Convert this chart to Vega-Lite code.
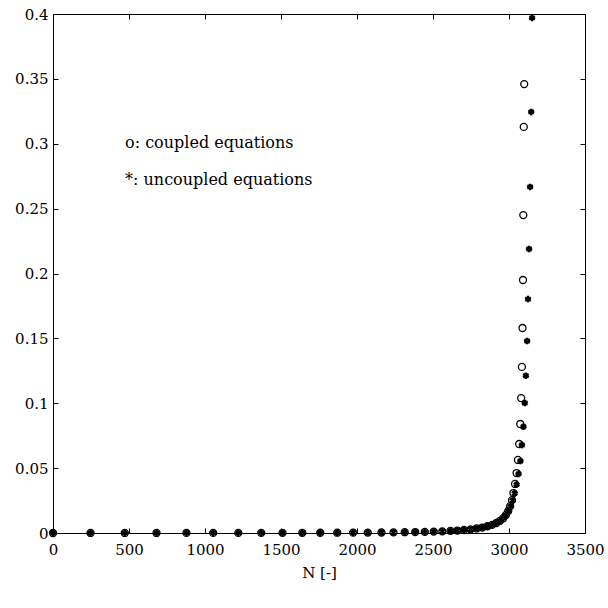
{
  "$schema": "https://vega.github.io/schema/vega-lite/v6.json",
  "width": 532,
  "height": 519,
  "autosize": "none",
  "padding": {"left": 53, "top": 14, "right": 23, "bottom": 75},
  "background": "white",
  "config": {
    "view": {"stroke": "black", "strokeWidth": 1},
    "axis": {
      "domainColor": "black",
      "domainWidth": 1,
      "tickColor": "black",
      "tickWidth": 1,
      "tickSize": -5,
      "grid": false,
      "labelFont": "DejaVu Serif",
      "labelFontSize": 15,
      "labelColor": "black",
      "labelFlush": false,
      "labelOverlap": false,
      "labelBound": false,
      "titleFont": "DejaVu Serif",
      "titleFontSize": 15,
      "titleFontWeight": "normal",
      "titleColor": "black"
    }
  },
  "data": {
    "values": [
      {"s": "c", "N": 0, "v": 0},
      {"s": "c", "N": 247, "v": 0.00002},
      {"s": "c", "N": 472, "v": 0.00003},
      {"s": "c", "N": 681, "v": 0.00004},
      {"s": "c", "N": 878, "v": 0.00005},
      {"s": "c", "N": 1054, "v": 0.00006},
      {"s": "c", "N": 1219, "v": 0.00008},
      {"s": "c", "N": 1370, "v": 0.0001},
      {"s": "c", "N": 1510, "v": 0.00012},
      {"s": "c", "N": 1640, "v": 0.00015},
      {"s": "c", "N": 1758, "v": 0.00018},
      {"s": "c", "N": 1870, "v": 0.00022},
      {"s": "c", "N": 1975, "v": 0.00027},
      {"s": "c", "N": 2071, "v": 0.00033},
      {"s": "c", "N": 2161, "v": 0.0004},
      {"s": "c", "N": 2240, "v": 0.0005},
      {"s": "c", "N": 2314, "v": 0.0006},
      {"s": "c", "N": 2383, "v": 0.00075},
      {"s": "c", "N": 2446, "v": 0.0009},
      {"s": "c", "N": 2505, "v": 0.0011},
      {"s": "c", "N": 2561, "v": 0.0013},
      {"s": "c", "N": 2615, "v": 0.0016},
      {"s": "c", "N": 2660, "v": 0.0019},
      {"s": "c", "N": 2704, "v": 0.0023},
      {"s": "c", "N": 2747, "v": 0.0028},
      {"s": "c", "N": 2787, "v": 0.0035},
      {"s": "c", "N": 2824, "v": 0.0042},
      {"s": "c", "N": 2858, "v": 0.0052},
      {"s": "c", "N": 2889, "v": 0.0063},
      {"s": "c", "N": 2917, "v": 0.0077},
      {"s": "c", "N": 2941, "v": 0.0094},
      {"s": "c", "N": 2962, "v": 0.0114},
      {"s": "c", "N": 2980, "v": 0.0139},
      {"s": "c", "N": 2995, "v": 0.017},
      {"s": "c", "N": 3008, "v": 0.0207},
      {"s": "c", "N": 3020, "v": 0.0253},
      {"s": "c", "N": 3029, "v": 0.0308},
      {"s": "c", "N": 3040, "v": 0.0378},
      {"s": "c", "N": 3050, "v": 0.0462},
      {"s": "c", "N": 3059, "v": 0.0563},
      {"s": "c", "N": 3067, "v": 0.0686},
      {"s": "c", "N": 3074, "v": 0.084},
      {"s": "c", "N": 3080, "v": 0.104},
      {"s": "c", "N": 3085, "v": 0.128},
      {"s": "c", "N": 3089, "v": 0.158},
      {"s": "c", "N": 3092, "v": 0.195},
      {"s": "c", "N": 3094, "v": 0.245},
      {"s": "c", "N": 3097, "v": 0.313},
      {"s": "c", "N": 3100, "v": 0.346},
      {"s": "u", "N": 0, "v": 0},
      {"s": "u", "N": 247, "v": 0.00002},
      {"s": "u", "N": 472, "v": 0.00003},
      {"s": "u", "N": 681, "v": 0.00004},
      {"s": "u", "N": 878, "v": 0.00005},
      {"s": "u", "N": 1054, "v": 0.00006},
      {"s": "u", "N": 1219, "v": 0.00008},
      {"s": "u", "N": 1370, "v": 0.0001},
      {"s": "u", "N": 1510, "v": 0.00012},
      {"s": "u", "N": 1640, "v": 0.00015},
      {"s": "u", "N": 1758, "v": 0.00018},
      {"s": "u", "N": 1870, "v": 0.00022},
      {"s": "u", "N": 1975, "v": 0.00027},
      {"s": "u", "N": 2071, "v": 0.00033},
      {"s": "u", "N": 2161, "v": 0.0004},
      {"s": "u", "N": 2240, "v": 0.0005},
      {"s": "u", "N": 2314, "v": 0.0006},
      {"s": "u", "N": 2383, "v": 0.00075},
      {"s": "u", "N": 2446, "v": 0.0009},
      {"s": "u", "N": 2505, "v": 0.0011},
      {"s": "u", "N": 2561, "v": 0.0013},
      {"s": "u", "N": 2615, "v": 0.0016},
      {"s": "u", "N": 2660, "v": 0.0019},
      {"s": "u", "N": 2704, "v": 0.0023},
      {"s": "u", "N": 2747, "v": 0.0028},
      {"s": "u", "N": 2787, "v": 0.0035},
      {"s": "u", "N": 2824, "v": 0.0042},
      {"s": "u", "N": 2858, "v": 0.0052},
      {"s": "u", "N": 2889, "v": 0.0063},
      {"s": "u", "N": 2917, "v": 0.0077},
      {"s": "u", "N": 2941, "v": 0.0094},
      {"s": "u", "N": 2962, "v": 0.0114},
      {"s": "u", "N": 2980, "v": 0.0139},
      {"s": "u", "N": 2995, "v": 0.017},
      {"s": "u", "N": 3011, "v": 0.0206},
      {"s": "u", "N": 3024, "v": 0.0251},
      {"s": "u", "N": 3037, "v": 0.0306},
      {"s": "u", "N": 3050, "v": 0.0373},
      {"s": "u", "N": 3063, "v": 0.0455},
      {"s": "u", "N": 3075, "v": 0.0555},
      {"s": "u", "N": 3085, "v": 0.0678},
      {"s": "u", "N": 3095, "v": 0.0819},
      {"s": "u", "N": 3104, "v": 0.1002},
      {"s": "u", "N": 3111, "v": 0.1212},
      {"s": "u", "N": 3119, "v": 0.148},
      {"s": "u", "N": 3125, "v": 0.1803},
      {"s": "u", "N": 3132, "v": 0.2189},
      {"s": "u", "N": 3139, "v": 0.2667},
      {"s": "u", "N": 3146, "v": 0.3245},
      {"s": "u", "N": 3152, "v": 0.397}
    ]
  },
  "layer": [
    {
      "transform": [{"filter": "datum.s == 'c'"}],
      "mark": {"type": "point", "shape": "circle", "size": 49, "filled": false, "stroke": "black", "strokeWidth": 1.3, "opacity": 1},
      "encoding": {
        "x": {
          "field": "N", "type": "quantitative",
          "scale": {"domain": [0, 3500], "nice": false, "zero": false},
          "axis": {"orient": "bottom", "values": [0, 500, 1000, 1500, 2000, 2500, 3000, 3500], "format": "d", "title": "N [-]", "labelPadding": 14, "titlePadding": 8}
        },
        "y": {
          "field": "v", "type": "quantitative",
          "scale": {"domain": [0, 0.4], "nice": false, "zero": false},
          "axis": {"orient": "left", "values": [0, 0.05, 0.1, 0.15, 0.2, 0.25, 0.3, 0.35, 0.4], "format": ".2~f", "title": null, "labelPadding": 10}
        }
      }
    },
    {
      "transform": [{"filter": "datum.s == 'u'"}],
      "mark": {"type": "point", "shape": "M0,-1L0,1M-0.87,-0.5L0.87,0.5M-0.87,0.5L0.87,-0.5", "size": 42, "filled": false, "stroke": "black", "strokeWidth": 2.4, "opacity": 1},
      "encoding": {
        "x": {
          "field": "N", "type": "quantitative",
          "axis": {"orient": "top", "values": [0, 500, 1000, 1500, 2000, 2500, 3000, 3500], "labels": false, "title": null}
        },
        "y": {
          "field": "v", "type": "quantitative",
          "axis": {"orient": "right", "values": [0, 0.05, 0.1, 0.15, 0.2, 0.25, 0.3, 0.35, 0.4], "labels": false, "title": null}
        }
      }
    },
    {
      "data": {
        "values": [
          {"t": "o: coupled equations", "N": 474, "v": 0.3006},
          {"t": "*: uncoupled equations", "N": 474, "v": 0.272}
        ]
      },
      "mark": {"type": "text", "align": "left", "baseline": "middle", "font": "DejaVu Serif", "fontSize": 16, "color": "black"},
      "encoding": {
        "x": {"field": "N", "type": "quantitative", "axis": null},
        "y": {"field": "v", "type": "quantitative", "axis": null},
        "text": {"field": "t"}
      }
    }
  ],
  "resolve": {"axis": {"x": "independent", "y": "independent"}}
}
